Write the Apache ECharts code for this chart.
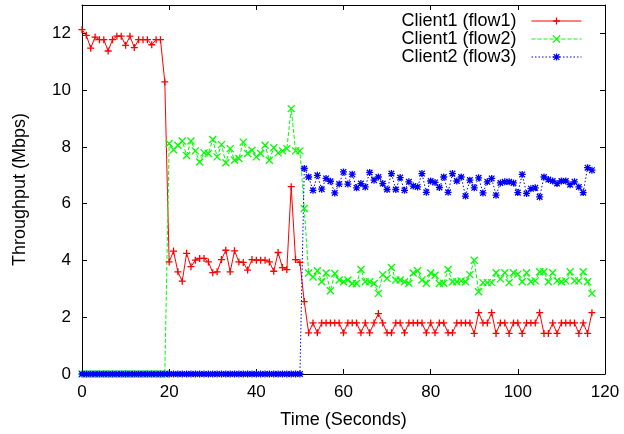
<!DOCTYPE html>
<html>
<head>
<meta charset="utf-8">
<script src="https://cdn.jsdelivr.net/npm/echarts@6/dist/echarts.min.js"></script>
<style>
html,body{margin:0;padding:0;background:#fff;}
#chart{width:624px;height:434px;}
</style>
</head>
<body>
<div id="chart"></div>
<script>
const seconds = [0,1,2,3,4,5,6,7,8,9,10,11,12,13,14,15,16,17,18,19,20,21,22,23,24,25,26,27,28,29,30,31,32,33,34,35,36,37,38,39,40,41,42,43,44,45,46,47,48,49,50,51,52,53,54,55,56,57,58,59,60,61,62,63,64,65,66,67,68,69,70,71,72,73,74,75,76,77,78,79,80,81,82,83,84,85,86,87,88,89,90,91,92,93,94,95,96,97,98,99,100,101,102,103,104,105,106,107,108,109,110,111,112,113,114,115,116,117];

const flow1 = [12.13,11.93,11.48,11.87,11.78,11.78,11.38,11.78,11.9,11.9,11.58,11.9,11.5,11.78,11.78,11.78,11.6,11.78,11.78,10.29,
3.95,4.33,3.6,3.27,4.25,3.78,4.01,4.07,4.07,3.95,3.57,3.6,4.03,4.36,3.6,4.34,3.95,3.93,3.66,4.03,4.01,4.01,4.01,3.95,3.62,4.28,3.75,3.68,6.6,4.03,3.93,2.55,1.45,
1.8,1.45,1.8,1.8,1.8,1.8,1.8,1.45,1.8,1.8,1.8,1.45,1.8,1.45,1.8,2.13,1.8,1.45,1.45,1.8,1.8,1.45,1.8,1.8,1.8,1.8,1.45,1.8,1.45,1.8,1.8,1.45,1.45,1.8,
1.8,1.8,1.8,1.43,2.16,1.8,1.8,2.16,1.43,1.8,1.8,1.43,1.8,1.8,1.43,1.8,1.8,1.8,2.16,1.43,1.43,1.8,1.43,1.8,1.8,1.8,1.8,1.43,1.8,1.43,2.16];

const flow2 = [0,0,0,0,0,0,0,0,0,0,0,0,0,0,0,0,0,0,0,0,
8.12,7.9,8.06,8.21,7.7,8.21,7.86,7.47,7.79,7.77,8.26,7.65,8.08,7.44,7.94,7.53,7.59,8.17,7.77,7.88,7.65,7.77,8.06,7.53,7.97,7.79,7.86,7.94,9.35,7.86,7.86,5.83,3.56,
3.42,3.64,3.25,3.56,2.93,3.54,3.31,3.25,3.31,3.19,3.19,3.68,3.25,3.25,3.19,2.84,3.5,3.37,3.75,3.31,3.31,3.25,3.2,3.56,3.64,3.31,3.2,3.56,3.48,3.19,3.2,3.68,3.25,3.25,
3.28,3.25,3.5,4.01,2.9,3.22,3.22,3.22,3.57,3.35,3.57,3.22,3.57,3.52,3.25,3.57,3.25,3.28,3.6,3.6,3.25,3.57,3.28,3.25,3.28,3.6,3.28,3.28,3.6,3.25,2.84];

const flow3 = [0,0,0,0,0,0,0,0,0,0,0,0,0,0,0,0,0,0,0,0,
0,0,0,0,0,0,0,0,0,0,0,0,0,0,0,0,0,0,0,0,0,0,0,0,0,0,0,0,0,0,0,7.24,6.94,
6.47,7.0,6.51,6.89,6.79,6.38,6.69,7.12,6.69,7.04,6.56,6.71,6.59,7.1,6.83,6.94,6.71,6.5,7.06,6.5,6.92,6.47,6.77,6.62,6.59,7.06,6.4,6.8,6.75,6.57,6.94,6.4,7.06,6.8,
6.94,6.27,6.83,6.56,6.91,6.38,6.77,6.89,6.3,6.73,6.77,6.77,6.73,6.39,7.03,6.36,6.53,6.56,6.24,6.94,6.85,6.8,6.71,6.8,6.8,6.67,6.77,6.59,6.39,7.27,7.18];

const seriesNames = ['Client1 (flow1)', 'Client1 (flow2)', 'Client2 (flow3)'];
const xTicks = { min: 0, max: 120, step: 20 };
const yTicks = { min: 0, max: 13, step: 2 };

const FONT = "'Liberation Sans', Arial, Helvetica, sans-serif";
const PLUS = 'path://M0,5L10,5M5,0L5,10';
const CROSS = 'path://M0,0L10,10M10,0L0,10';
const STAR = 'path://M0,5L10,5M5,0L5,10M1,1L9,9M9,1L1,9';

function pairs(vals) { return seconds.map((t, i) => [t, vals[i]]); }

function mkSeries(name, vals, color, symbol, dash) {
  return {
    name: name,
    type: 'line',
    data: pairs(vals),
    color: color,
    symbol: symbol,
    symbolSize: 7,
    clip: false,
    itemStyle: { color: color, borderColor: color, borderWidth: 1.3 },
    lineStyle: { color: color, width: 1, type: dash },
    emphasis: { disabled: true },
    animation: false
  };
}

const axisCommonX = {
  type: 'value', min: xTicks.min, max: xTicks.max, interval: xTicks.step,
  axisLine: { show: true, onZero: false, lineStyle: { color: '#000', width: 1 } },
  axisTick: { show: true, inside: true, length: 5, lineStyle: { color: '#000' } },
  splitLine: { show: false }
};
const axisCommonY = {
  type: 'value', min: yTicks.min, max: yTicks.max, interval: yTicks.step,
  axisLine: { show: true, onZero: false, lineStyle: { color: '#000', width: 1 } },
  axisTick: { show: true, inside: true, length: 5, lineStyle: { color: '#000' } },
  splitLine: { show: false }
};

const chart = echarts.init(document.getElementById('chart'), null, { renderer: 'canvas' });
chart.setOption({
  animation: false,
  backgroundColor: '#fff',
  textStyle: { fontFamily: FONT, color: '#000' },
  grid: { left: 82, right: 19, top: 5, bottom: 60, containLabel: false },
  legend: {
    data: seriesNames,
    orient: 'vertical',
    right: 42, top: 12,
    align: 'right',
    padding: 0,
    itemGap: 0,
    itemWidth: 50, itemHeight: 9,
    selectedMode: false,
    itemStyle: { borderWidth: 1.3 },
    lineStyle: { width: 1 },
    textStyle: { fontSize: 18, fontFamily: FONT, color: '#000', lineHeight: 17.7, padding: [0, 10, 0, 0] }
  },
  xAxis: [
    Object.assign({}, axisCommonX, {
      position: 'bottom',
      name: 'Time (Seconds)', nameLocation: 'middle', nameGap: 37,
      nameTextStyle: { fontSize: 18, fontFamily: FONT, color: '#000' },
      axisLabel: { show: true, fontSize: 17, fontFamily: FONT, color: '#000', margin: 10 }
    }),
    Object.assign({}, axisCommonX, { position: 'top', axisLabel: { show: false } })
  ],
  yAxis: [
    Object.assign({}, axisCommonY, {
      position: 'left',
      name: 'Throughput (Mbps)', nameLocation: 'middle', nameGap: 53, nameRotate: 90,
      nameTextStyle: { fontSize: 18, fontFamily: FONT, color: '#000' },
      axisLabel: { show: true, fontSize: 17, fontFamily: FONT, color: '#000', margin: 11, showMaxLabel: false,
        formatter: v => (v % 2 === 0 ? String(v) : '') }
    }),
    Object.assign({}, axisCommonY, { position: 'right', axisLabel: { show: false } })
  ],
  series: [
    mkSeries(seriesNames[0], flow1, '#ff0000', PLUS, 'solid'),
    mkSeries(seriesNames[1], flow2, '#00ff00', CROSS, [4, 2]),
    mkSeries(seriesNames[2], flow3, '#0000ff', STAR, [1.5, 2])
  ]
});
</script>
</body>
</html>
